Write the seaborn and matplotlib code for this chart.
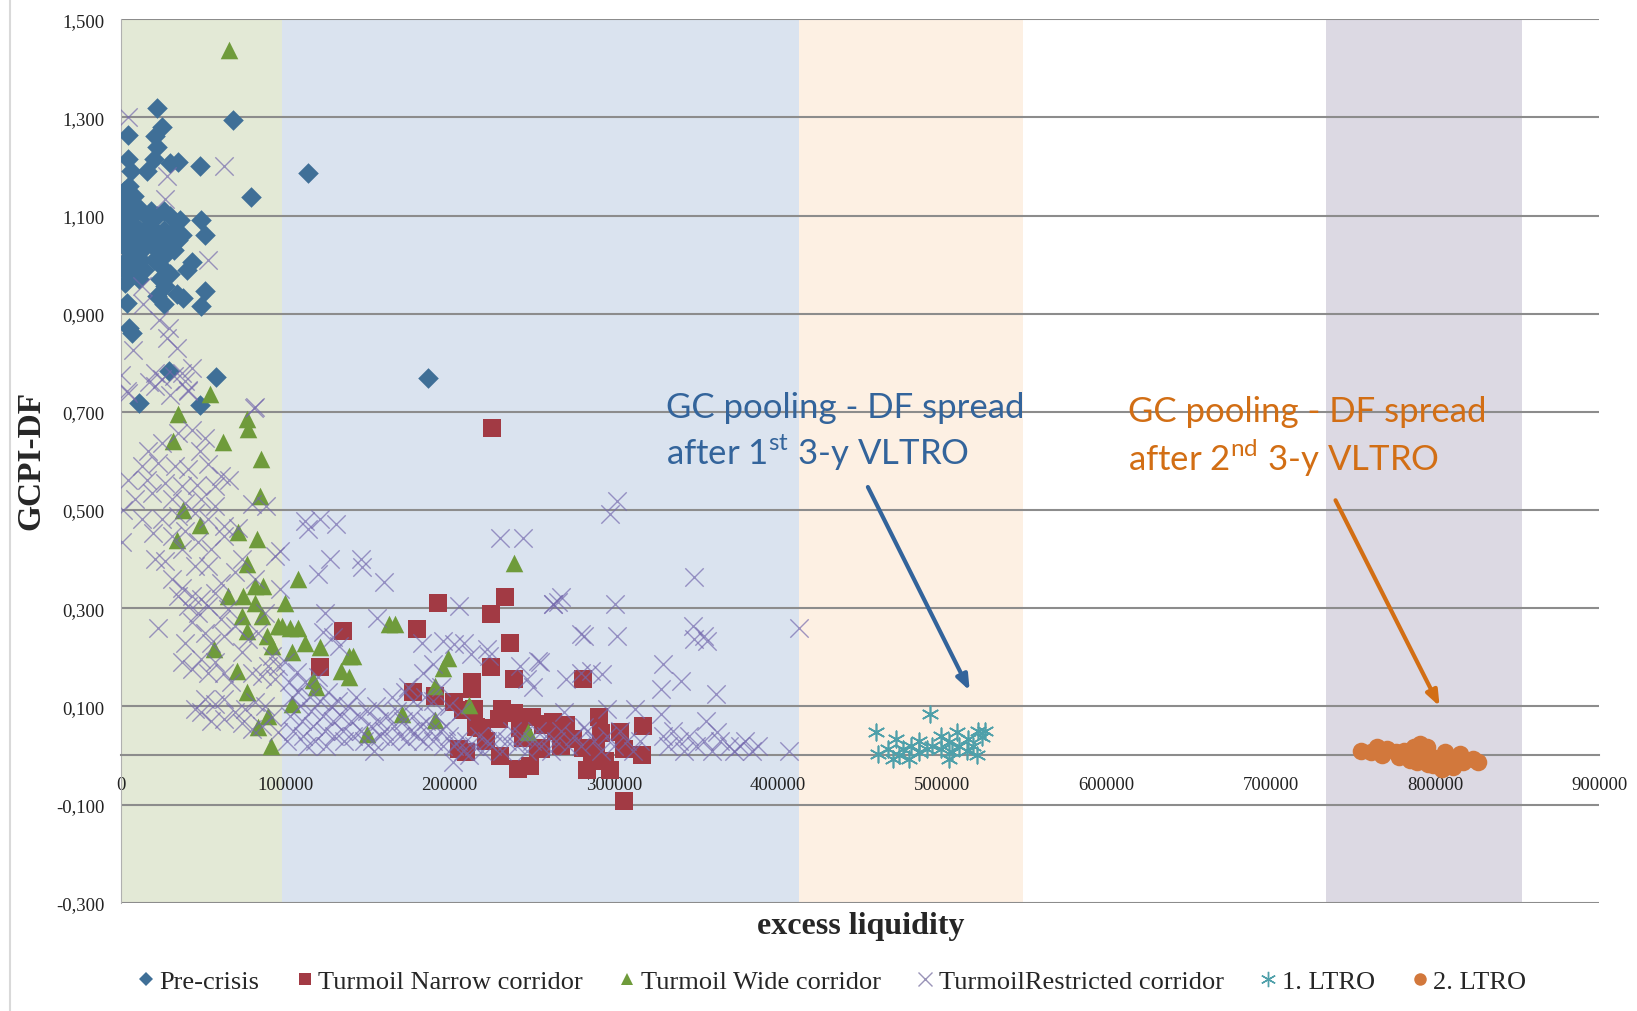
import numpy as np
import pandas as pd
import seaborn as sns
import matplotlib.pyplot as plt
from matplotlib.lines import Line2D

# excess liquidity values are given in thousands, GCPI-DF spread as is
pre_x = [22, 68, 4, 25, 21, 22, 4, 20, 30, 35, 48, 6, 16, 79, 114, 187,
         2, 5, 8, 3, 6, 10, 1, 4, 7, 12, 15, 18, 22, 26, 30, 2, 5, 8, 11, 14, 17, 20, 23, 26,
         29, 33, 1, 4, 7, 10, 13, 16, 19, 22, 25, 28, 31, 35, 3, 6, 9, 12, 20, 24, 27, 32,
         2, 8, 11, 14, 0, 0, 1, 2, 0, 36, 37,
         49, 51, 43, 40, 2.5, 24, 27, 30, 34, 38, 22, 26, 51, 49, 3.5, 5, 7, 29, 58, 11, 48]
pre_y = [1.32, 1.295, 1.265, 1.28, 1.263, 1.24, 1.216, 1.215, 1.207, 1.21, 1.2, 1.19, 1.19, 1.137, 1.186, 0.769,
         1.15, 1.16, 1.14, 1.12, 1.13, 1.12, 1.10, 1.09, 1.10, 1.11, 1.10, 1.11, 1.10, 1.11, 1.10, 1.07, 1.06, 1.08, 1.07, 1.06, 1.08, 1.07, 1.06, 1.07,
         1.06, 1.07, 1.04, 1.03, 1.05, 1.04, 1.03, 1.05, 1.04, 1.03, 1.04, 1.05, 1.04, 1.05, 1.01, 1.00, 1.02, 1.01, 1.01, 1.00, 1.02, 1.03,
         0.99, 0.98, 0.97, 0.99, 1.08, 1.05, 1.12, 1.13, 1.10, 1.09, 1.06,
         1.09, 1.06, 1.005, 0.99, 0.963, 0.97, 0.957, 0.98, 0.94, 0.933, 0.936, 0.92, 0.946, 0.916, 0.922, 0.87, 0.86, 0.783, 0.772, 0.718, 0.715]

narrow_x = [226, 135, 193, 180, 225, 234, 237, 225, 239, 213.5, 213.5, 177.6, 191, 203, 208, 215, 121, 216, 220, 206,
            210, 232, 230, 239, 243, 250, 257, 263, 231, 242, 249, 254, 281, 291, 259, 271, 265, 275, 281, 289,
            287, 295, 292, 304, 306, 318, 317, 306, 256, 284, 298, 222, 245, 268]
narrow_y = [0.667, 0.254, 0.31, 0.257, 0.288, 0.322, 0.229, 0.18, 0.156, 0.149, 0.135, 0.129, 0.121, 0.109, 0.092, 0.095, 0.18, 0.058, 0.055, 0.013,
            0.007, 0.095, 0.075, 0.086, 0.055, 0.078, 0.062, 0.068, -0.001, -0.028, -0.021, 0.016, 0.156, 0.078, 0.065, 0.063, 0.05, 0.033, 0.016, 0.01,
            -0.006, -0.012, 0.045, 0.047, 0.014, 0.061, 0.0, -0.092, 0.014, -0.03, -0.03, 0.03, 0.035, 0.02]

wide_x = [66, 54, 34.5, 76.5, 77.6, 62.3, 31.9, 85.3, 84.6, 38, 48, 33.9, 71.4, 82.6, 76.5, 108, 65.4, 74.5, 81.6, 86.7,
          81.6, 99.9, 73.5, 85.7, 76.5, 95.8, 103, 108, 88.7, 91.8, 104, 56.8, 70.4, 76.5, 89.8, 83.6, 91.3, 97.8, 112, 121,
          139, 141, 134, 139, 117, 104, 163, 167, 199, 196, 191, 212, 239, 171, 191, 150, 248, 119]
wide_y = [1.438, 0.736, 0.696, 0.686, 0.666, 0.638, 0.641, 0.604, 0.529, 0.5, 0.47, 0.44, 0.455, 0.441, 0.39, 0.36, 0.325, 0.325, 0.345, 0.345,
          0.311, 0.31, 0.284, 0.284, 0.253, 0.263, 0.26, 0.26, 0.243, 0.223, 0.21, 0.217, 0.173, 0.129, 0.081, 0.058, 0.02, 0.264, 0.23, 0.22,
          0.203, 0.203, 0.173, 0.16, 0.154, 0.104, 0.267, 0.267, 0.198, 0.178, 0.142, 0.103, 0.393, 0.085, 0.072, 0.044, 0.048, 0.14]

restr_x = [
    # upper left
    4.5, 63, 28, 27, 53, 12.6, 13.6, 23, 29, 28, 34, 7.5, 0, 21, 25, 32, 37, 43, 39, 17, 3.5, 30, 41, 81,
    # falling band below 0.75
    4.5, 20.7, 41, 81.5, 16.6, 24.7, 35, 43, 51, 48, 12.6, 22.7, 33, 41, 53, 61, 4.5, 15.6, 26.8, 37,
    46, 57, 66, 8.5, 18.7, 31, 39, 49, 57, 80, 88.6, 1.4, 12.6, 24.7, 35, 45, 53, 63, 0.4, 19.7,
    31, 39, 47, 55, 63, 71.4, 93.7, 20.7, 26.8, 37, 45, 53, 73.4, 61, 69.4, 81.5, 31, 37, 43, 49,
    57, 65, 35, 41, 47, 53, 61, 87.6, 69.4, 22.7, 43, 51, 55, 63, 77.5, 83.6, 73.4, 91.7, 95.8, 39,
    37, 43, 49, 53, 57, 63, 67, 79.5, 85.6, 89.7, 93.7, 51, 57, 63, 69.4, 75.5, 81.5, 87.6, 55, 63,
    73.4, 79.5, 85.6, 91.7, 95.8, 49, 45,
    # scattered above the main band
    112, 121, 131, 114, 127, 120, 146, 147, 160, 97, 97, 124, 156, 206, 183, 196, 203, 209, 213, 223,
    224, 231, 245, 263, 266, 190, 184, 243, 254, 247, 251, 123, 129, 133,
    # main band
    100, 102, 104, 103, 105, 101, 107, 108, 109, 110, 111, 113, 112, 115, 116, 117, 118, 120, 121, 123,
    124, 125, 126, 128, 129, 130, 132, 134, 135, 136, 138, 140, 141, 143, 145, 146, 148, 150, 152, 153,
    155, 157, 158, 160, 162, 164, 166, 168, 170, 172, 174, 176, 178, 180, 182, 184, 186, 188, 190, 192,
    194, 196, 198, 200, 203, 205, 208, 210, 212, 215, 218, 220, 223, 226, 229, 232, 235, 238, 241, 244,
    247, 250, 253, 256, 259, 262, 265, 268, 272, 276, 280, 284, 288, 292, 296, 300, 304, 308, 312, 316,
    202, 154, 165, 175, 190, 200, 207, 173, 185, 195, 178,
    # right part
    302, 298, 349, 263, 268, 301, 280, 282, 302, 348, 349, 357, 355, 413, 255, 271, 286, 293, 280, 330,
    329, 341, 362, 296, 313, 329, 356, 363, 282, 270,
    330, 333, 336, 340, 343, 346, 350, 355, 360, 365, 370, 373, 377, 380, 384, 388, 407]
restr_y = [
    1.3, 1.201, 1.18, 1.133, 1.009, 0.956, 0.92, 0.888, 0.871, 0.851, 0.83, 0.827, 0.776, 0.78, 0.767, 0.774, 0.78, 0.79, 0.763, 0.76, 0.742, 0.735, 0.742, 0.708,
    0.739, 0.752, 0.745, 0.71, 0.62, 0.637, 0.657, 0.664, 0.647, 0.62, 0.59, 0.596, 0.59, 0.583, 0.593, 0.569, 0.562, 0.562, 0.556, 0.549,
    0.552, 0.549, 0.562, 0.522, 0.535, 0.522, 0.515, 0.522, 0.508, 0.512, 0.508, 0.501, 0.481, 0.481, 0.488, 0.495, 0.481, 0.467, 0.434, 0.454,
    0.447, 0.457, 0.434, 0.42, 0.447, 0.464, 0.406, 0.4, 0.396, 0.42, 0.386, 0.386, 0.4, 0.352, 0.373, 0.359, 0.359, 0.342, 0.325, 0.318,
    0.332, 0.298, 0.325, 0.305, 0.291, 0.305, 0.278, 0.291, 0.264, 0.259, 0.271, 0.25, 0.23, 0.244, 0.237, 0.25, 0.21, 0.203, 0.183, 0.23,
    0.19, 0.176, 0.196, 0.169, 0.19, 0.169, 0.149, 0.169, 0.162, 0.183, 0.156, 0.115, 0.105, 0.115, 0.088, 0.095, 0.108, 0.101, 0.071, 0.074,
    0.067, 0.054, 0.061, 0.078, 0.047, 0.088, 0.095,
    0.478, 0.482, 0.471, 0.461, 0.4, 0.37, 0.4, 0.383, 0.353, 0.417, 0.339, 0.291, 0.281, 0.305, 0.23, 0.234, 0.227, 0.23, 0.207, 0.217,
    0.203, 0.444, 0.444, 0.308, 0.312, 0.186, 0.169, 0.183, 0.193, 0.156, 0.139, 0.251, 0.241, 0.224,
    0.19, 0.15, 0.12, 0.08, 0.05, 0.03, 0.17, 0.13, 0.10, 0.07, 0.04, 0.02, 0.15, 0.12, 0.09, 0.06, 0.03, 0.16, 0.11, 0.08,
    0.05, 0.02, 0.13, 0.10, 0.07, 0.04, 0.11, 0.08, 0.05, 0.03, 0.10, 0.07, 0.04, 0.12, 0.08, 0.05, 0.03, 0.09, 0.06, 0.03,
    0.10, 0.07, 0.04, 0.05, 0.08, 0.03, 0.06, 0.09, 0.04, 0.07, 0.03, 0.05, 0.08, 0.04, 0.06, 0.03, 0.07, 0.05, 0.03, 0.08,
    0.05, 0.02, 0.06, 0.04, 0.02, 0.03, 0.01, 0.03, 0.00, 0.02, 0.04, 0.01, 0.03, 0.02, 0.04, 0.01, 0.03, 0.05, 0.02, 0.04,
    0.01, 0.03, 0.05, 0.02, 0.04, 0.01, 0.03, 0.05, 0.02, 0.04, 0.02, 0.05, 0.03, 0.01, 0.04, 0.02, 0.05, 0.03, 0.01, 0.03,
    -0.014, 0.01, 0.12, 0.14, 0.11, 0.10, 0.09, 0.13, 0.12, 0.14, 0.11,
    0.519, 0.492, 0.363, 0.308, 0.322, 0.308, 0.247, 0.244, 0.244, 0.264, 0.237, 0.234, 0.244, 0.26, 0.19, 0.156, 0.173, 0.166, 0.169, 0.186,
    0.135, 0.152, 0.125, 0.095, 0.095, 0.084, 0.071, 0.047, 0.057, 0.088,
    0.04, 0.02, 0.05, 0.03, 0.01, 0.04, 0.02, 0.03, 0.01, 0.03, 0.02, 0.01, 0.02, 0.03, 0.01, 0.02, 0.01]

ltro1_x = [459.6, 461, 492.6, 472, 476, 474, 481, 486, 480, 470, 467, 486, 499, 504, 499, 506, 510, 515, 504, 509,
           522, 526, 524, 519, 521, 516, 494, 491]
ltro1_y = [0.047, 0.003, 0.085, 0.034, 0.014, 0.0, 0.02, 0.007, -0.007, -0.007, 0.014, 0.03, 0.04, 0.027, 0.014, 0.007, 0.02, 0.01, -0.007, 0.047,
           0.05, 0.05, 0.037, 0.02, 0.0, 0.034, 0.02, 0.014]

ltro2_x = [755, 765, 771, 776, 781, 784, 787, 791, 795, 793, 789, 799, 802, 806, 807, 811, 815, 817, 823, 826,
           778, 768, 761, 785, 798, 804, 796]
ltro2_y = [0.01, 0.017, 0.013, 0.007, 0.01, 0.0, 0.017, 0.024, 0.017, 0.0, -0.013, -0.02, -0.007, 0.007, -0.013, -0.023, 0.003, -0.013, -0.007, -0.013,
           -0.003, 0.0, 0.007, -0.01, -0.003, -0.027, -0.017]

series_labels = ['Pre-crisis', 'Turmoil Narrow corridor', 'Turmoil Wide corridor',
                 'TurmoilRestricted corridor', '1. LTRO', '2. LTRO']
# shaded regimes (thousands)
bands = [(0, 98, '#e3e9d6'), (98, 412.6, '#dae3ef'), (412.6, 549, '#fdf0e3'), (733.6, 853, '#dcd9e3')]

sns.set_style('white')
plt.rcParams['font.family'] = ['Liberation Serif', 'DejaVu Sans']
plt.rcParams['mathtext.fontset'] = 'custom'
plt.rcParams['mathtext.rm'] = 'Lato'

fig = plt.figure(figsize=(16.37, 10.12), dpi=100)
ax = fig.add_axes([0.0739, 0.107, 0.903, 0.873])

for lo, hi, c in bands:
    ax.axvspan(lo * 1000, hi * 1000, color=c, lw=0, zorder=0)
for yv in np.arange(-0.3, 1.51, 0.2):
    ax.axhline(yv, color='#8c8c8c', lw=1.5, zorder=1)

c_pre, c_nar, c_wid, c_res, c_l1, c_l2 = '#3f6f97', '#a23a44', '#6f9b3b', '#7468ad', '#4fa0aa', '#d2783c'

def to_df(xs, ys):
    return pd.DataFrame({'x': np.array(xs) * 1000, 'y': ys})

sns.scatterplot(data=to_df(pre_x, pre_y), x='x', y='y', marker='D', s=110, color=c_pre, linewidth=0, ax=ax, zorder=3)
sns.scatterplot(data=to_df(narrow_x, narrow_y), x='x', y='y', marker='s', s=160, color=c_nar, linewidth=0, ax=ax, zorder=3)
sns.scatterplot(data=to_df(wide_x, wide_y), x='x', y='y', marker='^', s=160, color=c_wid, linewidth=0, ax=ax, zorder=3)
sns.scatterplot(data=to_df(restr_x, restr_y), x='x', y='y', marker='x', s=175, color=c_res, linewidth=1.0, alpha=0.68, ax=ax, zorder=3)
sns.scatterplot(data=to_df(ltro1_x, ltro1_y), x='x', y='y', marker=(6, 2, 0), s=140, color=c_l1, linewidth=1.2, ax=ax, zorder=3)
sns.scatterplot(data=to_df(ltro2_x, ltro2_y), x='x', y='y', marker='o', s=160, color=c_l2, linewidth=0, ax=ax, zorder=3)

ax.set_xlim(0, 900000)
ax.set_ylim(-0.3, 1.5)
ax.set_xticks(np.arange(0, 900001, 100000))
ax.set_xticklabels([str(v) for v in range(0, 900001, 100000)])
yt = np.arange(-0.3, 1.51, 0.2)
ax.set_yticks(yt)
ax.set_yticklabels([f'{v:.3f}'.replace('.', ',') for v in yt])
ax.tick_params(axis='both', length=0, labelsize=13.5, colors='#222222')
ax.tick_params(axis='y', pad=12)
ax.tick_params(axis='x', pad=15)
ax.spines['bottom'].set_position(('data', 0))
ax.spines['bottom'].set_color('#8c8c8c')
ax.spines['bottom'].set_linewidth(1.5)
ax.spines['left'].set_color('#b0b0b0')
ax.spines['top'].set_visible(False)
ax.spines['right'].set_visible(False)
ax.set_xlabel('')
ax.set_ylabel('')

fig.text(0.526, 0.084, 'excess liquidity', ha='center', va='center', fontsize=23, fontweight='bold')
fig.text(0.019, 0.545, 'GCPI-DF', ha='center', va='center', rotation=90, fontsize=24, fontweight='bold')

# annotations
blue_t, orange_t = '#33649b', '#d26e14'
ax.text(332000, 0.742, 'GC pooling - DF spread\nafter 1$^{\\mathrm{st}}$ 3-y VLTRO', color=blue_t,
        fontsize=25, family='Lato', ha='left', va='top', linespacing=1.25, zorder=5)
ax.text(613000, 0.734, 'GC pooling - DF spread\nafter 2$^{\\mathrm{nd}}$ 3-y VLTRO', color=orange_t,
        fontsize=25, family='Lato', ha='left', va='top', linespacing=1.25, zorder=5)
ax.annotate('', xy=(517500, 0.127), xytext=(454000, 0.552),
            arrowprops=dict(arrowstyle='-|>,head_length=0.9,head_width=0.35', color=blue_t, lw=3), zorder=5)
ax.annotate('', xy=(803600, 0.095), xytext=(738700, 0.525),
            arrowprops=dict(arrowstyle='-|>,head_length=0.9,head_width=0.35', color=orange_t, lw=3), zorder=5)

handles = [
    Line2D([], [], ls='', marker='D', color=c_pre, markersize=7, markeredgewidth=0),
    Line2D([], [], ls='', marker='s', color=c_nar, markersize=9, markeredgewidth=0),
    Line2D([], [], ls='', marker='^', color=c_wid, markersize=9, markeredgewidth=0),
    Line2D([], [], ls='', marker='x', color='#9a94b8', markersize=10, markeredgewidth=1),
    Line2D([], [], ls='', marker=(6, 2, 0), color=c_l1, markersize=11, markeredgewidth=1),
    Line2D([], [], ls='', marker='o', color=c_l2, markersize=9, markeredgewidth=0),
]
fig.legend(handles, series_labels, loc='center', bbox_to_anchor=(0.508, 0.029), ncol=6, frameon=False,
           fontsize=19, handlelength=0.7, handletextpad=0.15, columnspacing=1.35)

fig.add_artist(Line2D([0.006, 0.006], [0.0, 1.0], color='#d9d9d9', lw=1.5, transform=fig.transFigure))

fig.savefig('out.png', dpi=100)
plt.close(fig)
